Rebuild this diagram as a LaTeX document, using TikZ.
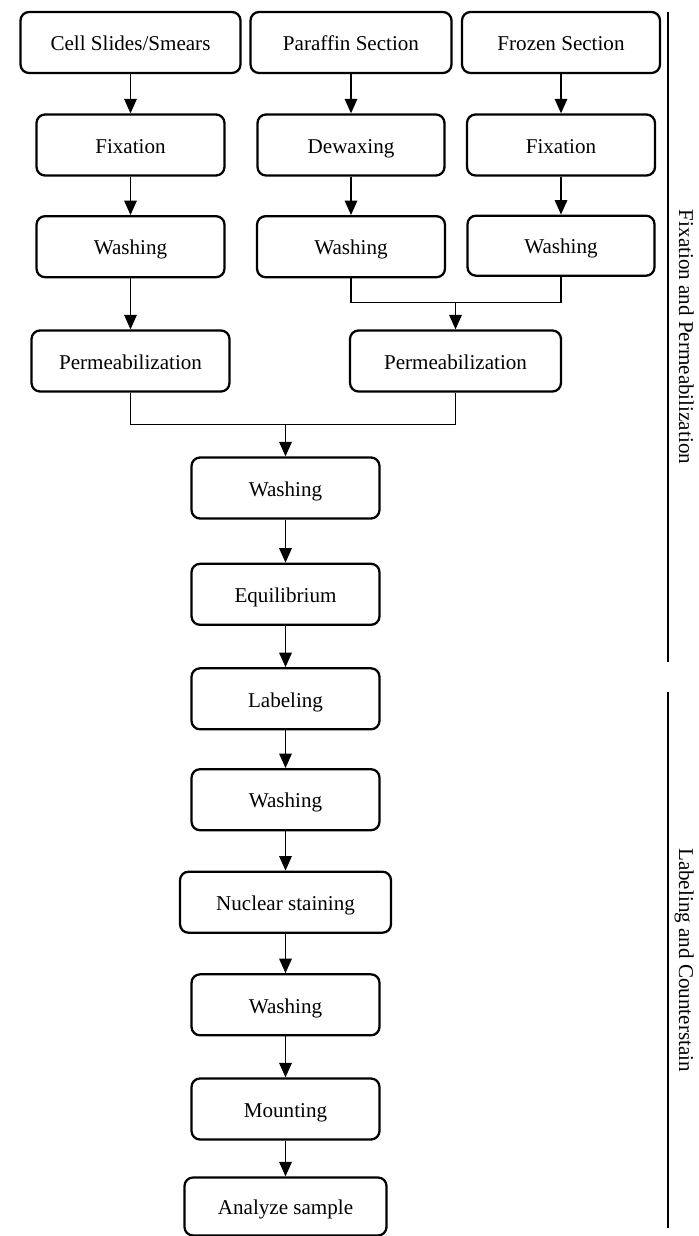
\documentclass[tikz,border=0pt]{standalone}
\usepackage{fontspec}
\setmainfont{Liberation Serif}
\usetikzlibrary{arrows.meta}
\tikzset{
	stepbox/.style={draw, line width=1.3pt, rounded corners=0.17cm, minimum height=1.22cm, inner sep=0pt, text height=9.4pt, text depth=0pt, font=\fontsize{12}{14}\selectfont},
	flow/.style={line width=0.95pt, -{Triangle[width=2.5mm,length=2.9mm]}},
	joinline/.style={line width=0.65pt},
	sideline/.style={line width=0.8pt},
	sidetext/.style={rotate=-90, anchor=base, inner sep=0pt, font=\fontsize{12}{14}\selectfont}
}

\begin{document}
\begin{tikzpicture}[x=0.02cm, y=-0.02cm]
			%%%%% START %%%%%
			\useasboundingbox (0,0) rectangle (698,1236);
			
			\node[stepbox, minimum width=4.4cm] (cell) at (130.5,42.5) {Cell Slides/Smears};
			\node[stepbox, minimum width=4.02cm] (paraffin) at (351,42.5) {Paraffin Section};
			\node[stepbox, minimum width=3.96cm] (frozen) at (561,42.5) {Frozen Section};
			
			\node[stepbox, minimum width=3.76cm] (fixA) at (130.5,145) {Fixation};
			\node[stepbox, minimum width=3.74cm] (dewax) at (351,145) {Dewaxing};
			\node[stepbox, minimum width=3.76cm] (fixB) at (561,145) {Fixation};
			
			\node[stepbox, minimum width=3.76cm] (washA) at (130.5,246.7) {Washing};
			\node[stepbox, minimum width=3.76cm] (washB) at (351,246.7) {Washing};
			\node[stepbox, minimum width=3.74cm, minimum height=1.2cm] (washC) at (561,245.7) {Washing};
			
			\node[stepbox, minimum width=3.96cm] (permA) at (130.5,361) {Permeabilization};
			\node[stepbox, minimum width=4.22cm] (permB) at (455.5,361) {Permeabilization};
			
			\node[stepbox, minimum width=3.76cm] (washD) at (285.5,488) {Washing};
			\node[stepbox, minimum width=3.76cm] (equil) at (285.5,594.3) {Equilibrium};
			\node[stepbox, minimum width=3.76cm] (label) at (285.5,698.8) {Labeling};
			\node[stepbox, minimum width=3.76cm] (washE) at (285.5,799.7) {Washing};
			\node[stepbox, minimum width=4.22cm] (nuclear) at (285.5,902.2) {Nuclear staining};
			\node[stepbox, minimum width=3.76cm] (washF) at (285.5,1004.8) {Washing};
			\node[stepbox, minimum width=3.76cm] (mount) at (285.5,1109) {Mounting};
			\node[stepbox, minimum width=4.04cm, minimum height=1.16cm] (analyze) at (285.5,1206.5) {Analyze sample};
			
			\draw[flow] (cell) -- (fixA);
			\draw[flow] (fixA) -- (washA);
			\draw[flow] (washA) -- (permA);
			\draw[flow] (paraffin) -- (dewax);
			\draw[flow] (dewax) -- (washB);
			\draw[flow] (frozen) -- (fixB);
			\draw[flow] (fixB) -- (washC);
			
			\coordinate (joinB) at (455.5,302.7);
			\draw[joinline] (washB.south) |- (joinB) -| (washC.south);
			\draw[flow] (joinB) -- (permB);
			
			\coordinate (joinA) at (285.5,424.3);
			\draw[joinline] (permA.south) |- (joinA) -| (permB.south);
			\draw[flow] (joinA) -- (washD);
			
			\draw[flow] (washD) -- (equil);
			\draw[flow] (equil) -- (label);
			\draw[flow] (label) -- (washE);
			\draw[flow] (washE) -- (nuclear);
			\draw[flow] (nuclear) -- (washF);
			\draw[flow] (washF) -- (mount);
			\draw[flow] (mount) -- (analyze);
			
			\draw[sideline] (668,12) -- (668,662);
			\node[sidetext] (fixtext) at (679,337) {Fixation and Permeabilization};
			\draw[sideline] (668,692) -- (668,1228);
			\node[sidetext] (labeltext) at (679,960) {Labeling and Counterstain};
			
			%%%%% END %%%%%
\end{tikzpicture}
\end{document}
